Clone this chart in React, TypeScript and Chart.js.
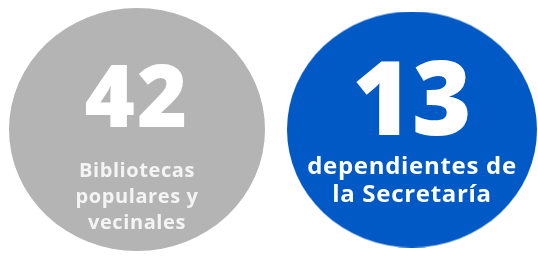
import React, { useEffect, useRef } from "react";
import { Chart, registerables } from "chart.js";

Chart.register(...registerables);

const categories = ["Bibliotecas populares y vecinales", "dependientes de la Secretaría"];
const values = [42, 13];
const labelLines = [
  ["Bibliotecas", "populares y", "vecinales"],
  ["dependientes de", "la Secretaría"],
];
const colors = ["#b4b4b4", "#0059c5"];

function ellipseImage(rx: number, ry: number, color: string) {
  const c = document.createElement("canvas");
  c.width = Math.round(rx * 2);
  c.height = Math.round(ry * 2);
  const ctx = c.getContext("2d")!;
  ctx.fillStyle = color;
  ctx.beginPath();
  ctx.ellipse(rx, ry, rx, ry, 0, 0, Math.PI * 2);
  ctx.fill();
  return c;
}

const textPlugin = {
  id: "circleText",
  afterDatasetsDraw(chart: any) {
    const ctx = chart.ctx;
    const meta = chart.getDatasetMeta(0);
    meta.data.forEach((pt: any, i: number) => {
      const { x, y } = pt.getProps(["x", "y"], true);
      ctx.save();
      ctx.fillStyle = "#ffffff";
      ctx.textAlign = "center";
      ctx.textBaseline = "alphabetic";
      if (i === 0) {
        ctx.font = "800 86px 'Open Sans'";
        (ctx as any).letterSpacing = "2px";
        ctx.fillText(String(values[i]), x, y - 3);
        ctx.font = "700 20px 'Open Sans'";
        (ctx as any).letterSpacing = "0.6px";
        ctx.fillStyle = "#f4f4f4";
        labelLines[i].forEach((l, k) => ctx.fillText(l, x, y + 47 + k * 26));
      } else {
        ctx.font = "800 102px 'Open Sans'";
        (ctx as any).letterSpacing = "0px";
        ctx.fillText(String(values[i]), x, y + 5);
        ctx.font = "700 24px 'Open Sans'";
        (ctx as any).letterSpacing = "0.7px";
        labelLines[i].forEach((l, k) => ctx.fillText(l, x, y + 44 + k * 28));
      }
      ctx.restore();
    });
  },
};

export default function App() {
  const ref = useRef<HTMLCanvasElement>(null);
  useEffect(() => {
    document.body.style.margin = "0";
    const images = [ellipseImage(128, 121.5, colors[0]), ellipseImage(125, 118, colors[1])];
    const chart = new Chart(ref.current!, {
      type: "line",
      data: {
        labels: categories,
        datasets: [
          {
            data: values.map(() => 0),
            showLine: false,
            pointStyle: images as any,
            pointRadius: 10,
            clip: false as any,
          },
        ],
      },
      options: {
        responsive: false,
        animation: false,
        events: [],
        layout: { padding: { left: 137, right: 126, top: 9, bottom: 0 } },
        plugins: { legend: { display: false }, tooltip: { enabled: false } },
        scales: {
          x: { display: false, offset: false },
          y: { display: false, min: -1, max: 1 },
        },
      },
      plugins: [textPlugin],
    });
    return () => chart.destroy();
  }, []);
  return (
    <div style={{ width: 538, height: 259 }}>
      <canvas ref={ref} width={538} height={259} />
    </div>
  );
}
